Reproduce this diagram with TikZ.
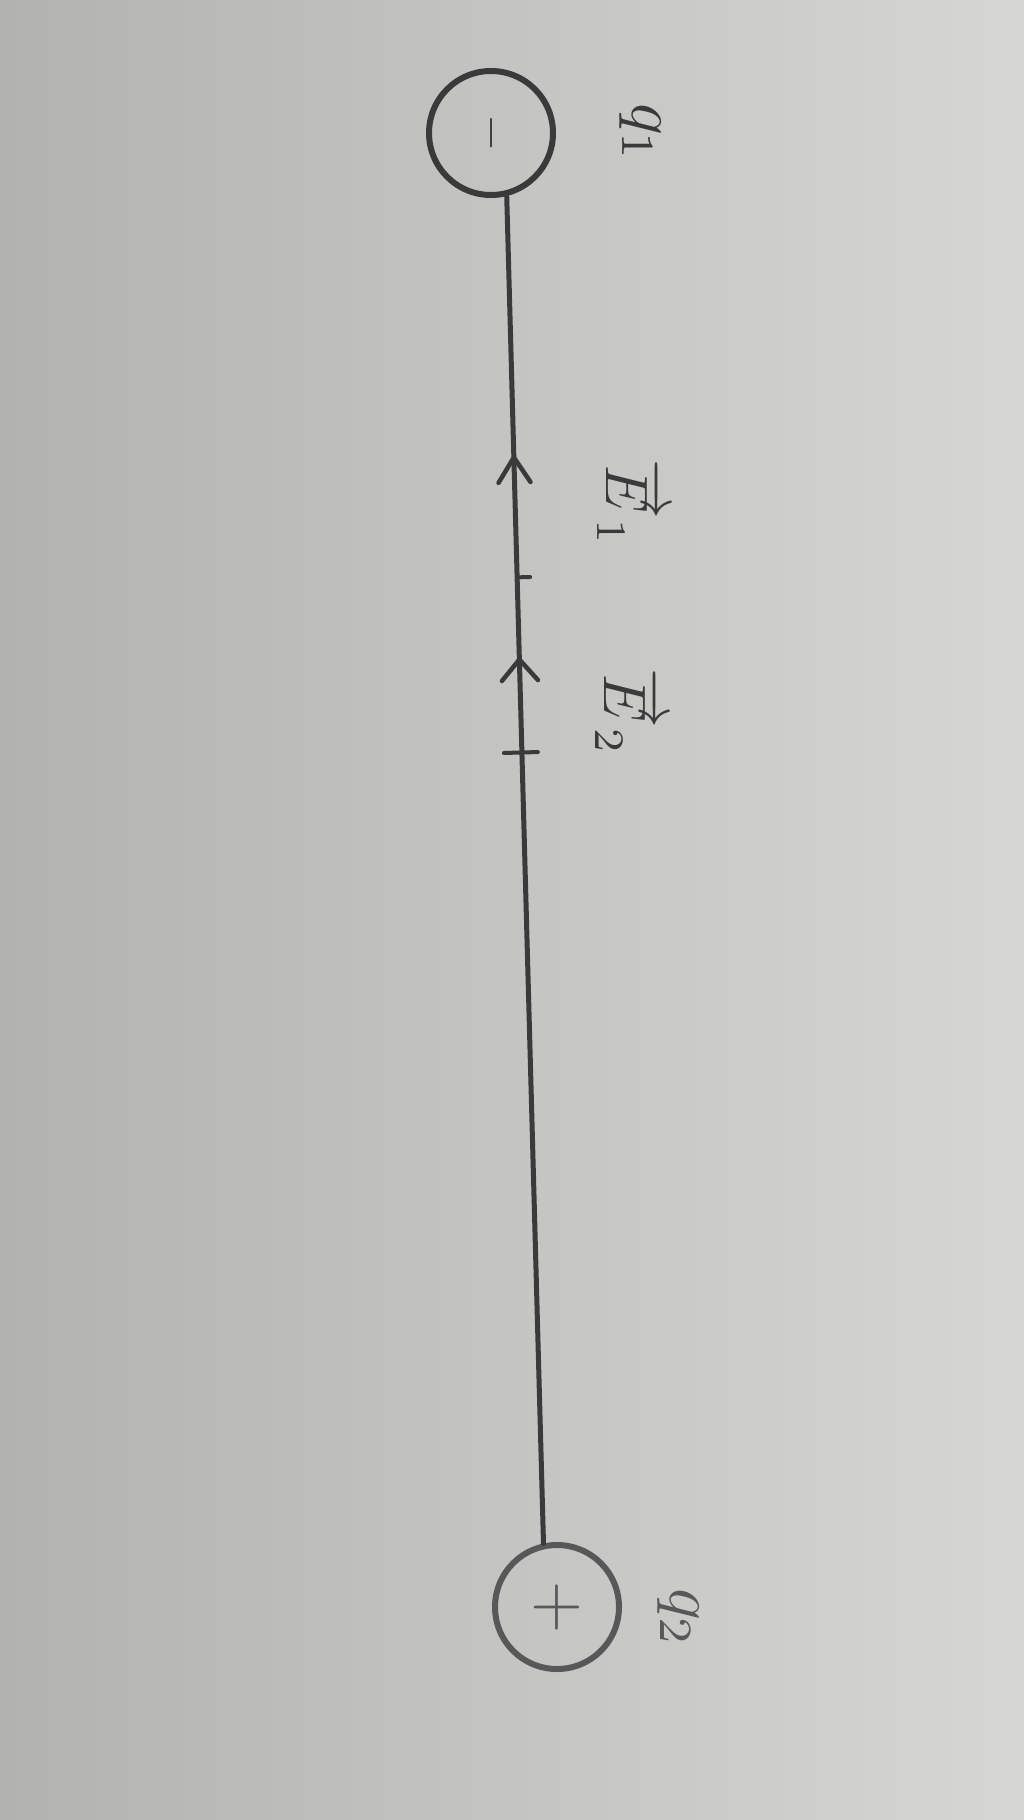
\documentclass[tikz,border=0pt]{standalone}
\usetikzlibrary{decorations.markings}
\definecolor{ink}{RGB}{58,58,58}
\definecolor{inkB}{RGB}{88,88,88}
\definecolor{paperL}{RGB}{178,178,176}
\definecolor{paperR}{RGB}{214,214,212}
\begin{document}
\begin{tikzpicture}[x=1pt,y=1pt,
  charge/.style={circle,draw=ink,line width=6pt,minimum size=124pt,inner sep=0pt,text=ink},
  wire/.style={draw=ink,line width=5pt,line cap=round},
  lbl/.style={text=ink,rotate=-90,inner sep=0pt},
  chev/.style={draw=ink,line width=4.5pt,line cap=round,line join=round},
  tickmark/.style={draw=ink,line width=4pt,line cap=round}]
\shade[left color=paperL,right color=paperR] (0,0) rectangle (1024,-1820);
\useasboundingbox (0,0) rectangle (1024,-1820);
\node[charge] (q1) at (491,-133) {\rotatebox{-90}{\scalebox{4.8}{$-$}}};
\node[charge,draw=inkB,text=inkB] (q2) at (557,-1607) {\scalebox{6.8}{$+$}};
\draw[wire,postaction={decorate},decoration={markings,
  mark=at position 0.194 with {\draw[chev] (25pt,16pt) -- (0pt,0pt) -- (25pt,-16pt);},
  mark=at position 0.283 with {\draw[tickmark] (0pt,0pt) -- (0pt,13pt);},
  mark=at position 0.344 with {\draw[chev] (21pt,18pt) -- (0pt,0pt) -- (21pt,-18pt);},
  mark=at position 0.413 with {\draw[tickmark] (0pt,-18pt) -- (0pt,16pt);}}]
  (q1.-76) -- (q2.102);
\node[lbl] (lq1) at (640,-133) {\scalebox{6.6}{$q_1$}};
\node[lbl] (le1) at (630,-503) {\scalebox{6}{$\overrightarrow{E}_1$}};
\node[lbl] (le2) at (628,-712) {\scalebox{6}{$\overrightarrow{E}_2$}};
\node[lbl,text=inkB] (lq2) at (678,-1618) {\scalebox{6.6}{$q_2$}};
\end{tikzpicture}
\end{document}
